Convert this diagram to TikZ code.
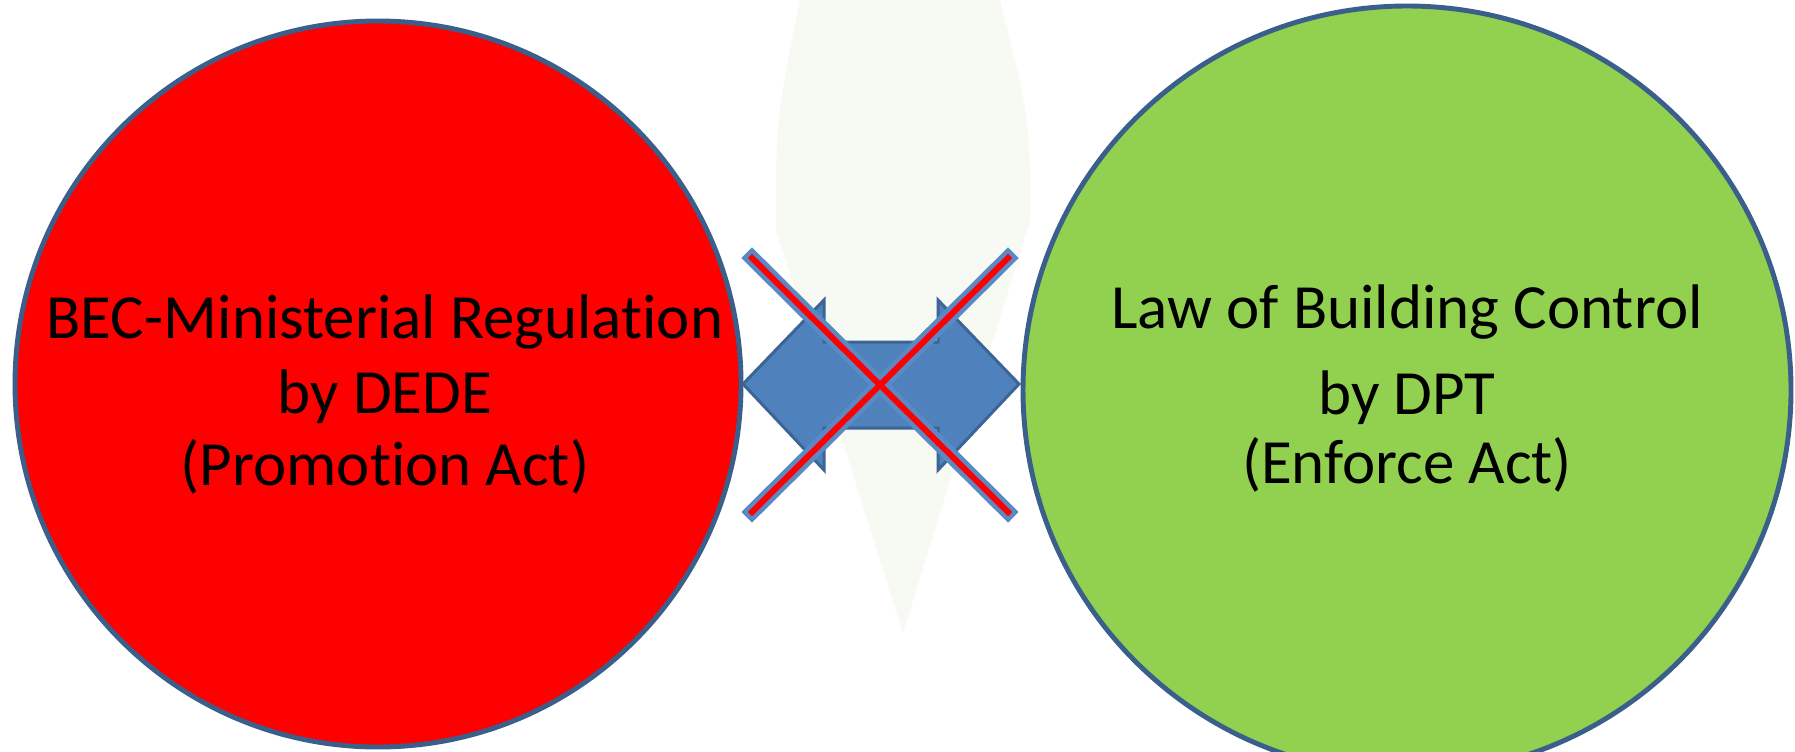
\documentclass[tikz,border=0pt]{standalone}
\usepackage{fontspec}
\setmainfont{Carlito}[Ligatures=NoCommon]
\usepackage{tikz}

\definecolor{rimblue}{HTML}{3A5F8B}
\definecolor{actred}{HTML}{FF0000}
\definecolor{actgreen}{HTML}{92D050}
\definecolor{arrowblue}{HTML}{4F81BD}
\definecolor{arrowrim}{HTML}{3C6494}
\definecolor{crossblue}{HTML}{5A8AC6}
\definecolor{markgreen}{HTML}{F6FAF3}

\tikzset{
  actcircle/.style={draw=rimblue, line width=1.4pt},
  acttext/.style={anchor=base, inner sep=0pt, font=\fontsize{17.9}{21}\selectfont},
  crossrim/.style={draw=crossblue, line width=4.3pt, line cap=rect},
  crossbar/.style={draw=actred, line width=1.7pt, line cap=rect},
}

\begin{document}
\begin{tikzpicture}[x=0.01cm, y=-0.01cm]
  \useasboundingbox (0,0) rectangle (1795,751);
  \fill[white] (0,0) rectangle (1795,751);
  % faint watermark behind
  \fill[markgreen] (800,0) -- (1000,0) .. controls (1030,120) .. (1030,220)
    -- (903,633) -- (776,230) .. controls (776,120) .. (800,0) -- cycle;

  % the two acts
  \draw[actcircle, fill=actred] (378,384) circle [radius=363];
  \draw[actcircle, fill=actgreen] (1407,390) circle [radius=384];

  \node[acttext] (dede1) at (385,338) {BEC-Ministerial Regulation};
  \node[acttext] (dede2) at (385,413) {by DEDE};
  \node[acttext] (dede3) at (385,485) {(Promotion Act)};
  \node[acttext] (dpt1) at (1407,328) {Law of Building Control};
  \node[acttext] (dpt2) at (1407,414) {by DPT};
  \node[acttext] (dpt3) at (1407,483) {(Enforce Act)};

  % double arrow between them
  \coordinate (redtip) at (743,384);
  \coordinate (greentip) at (1019,384);
  \draw[arrowrim, fill=arrowblue, line width=0.85pt, line join=miter]
    (redtip) -- (824,300) -- (824,342) -- (938,342) -- (938,300)
    -- (greentip) -- (938,470) -- (938,428) -- (824,428) -- (824,470) -- cycle;

  % crossed out
  \coordinate (xa) at (752,258);
  \coordinate (xb) at (1008,512);
  \coordinate (xc) at (1008,258);
  \coordinate (xd) at (752,512);
  \draw[crossrim] (xa) -- (xb);
  \draw[crossrim] (xc) -- (xd);
  \draw[crossbar] (xa) -- (xb);
  \draw[crossbar] (xc) -- (xd);
\end{tikzpicture}
\end{document}
